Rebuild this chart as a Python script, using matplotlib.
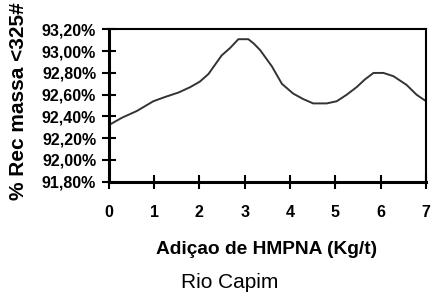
import matplotlib
matplotlib.use("Agg")
import matplotlib.pyplot as plt

x_vals = [0.0, 0.3, 0.62, 0.985, 1.25, 1.54, 1.8, 2.01, 2.2, 2.49, 2.68, 2.86, 3.08, 3.2, 3.34, 3.6, 3.82,
          4.07, 4.29, 4.51, 4.81, 5.03, 5.25, 5.47, 5.65, 5.84, 6.06, 6.28, 6.57, 6.79, 7.0]
y_vals = [92.32, 92.39, 92.45, 92.54, 92.58, 92.62, 92.67, 92.72, 92.79, 92.96, 93.03, 93.11, 93.11, 93.07, 93.01, 92.86, 92.70,
          92.61, 92.56, 92.52, 92.52, 92.54, 92.60, 92.67, 92.74, 92.80, 92.80, 92.77, 92.69, 92.60, 92.54]
x_ticks = [0, 1, 2, 3, 4, 5, 6, 7]
y_ticks = [91.8, 92.0, 92.2, 92.4, 92.6, 92.8, 93.0, 93.2]
y_tick_labels = ["91,80%", "92,00%", "92,20%", "92,40%", "92,60%", "92,80%", "93,00%", "93,20%"]
x_label = "Adiçao de HMPNA (Kg/t)"
y_label = "% Rec massa <325#"
subtitle = "Rio Capim"

plt.rcParams['font.family'] = ['Liberation Sans', 'DejaVu Sans']

fig = plt.figure(figsize=(4.33, 2.97), dpi=100)
ax = fig.add_axes([0.251, 0.388, 0.733, 0.513])
ax.plot(x_vals, y_vals, color="#333333", linewidth=1.4)
ax.set_xlim(0, 7)
ax.set_ylim(91.8, 93.2)
ax.set_xticks(x_ticks)
ax.set_xticklabels([str(t) for t in x_ticks], fontsize=11.5, fontweight='bold')
ax.set_yticks(y_ticks)
ax.set_yticklabels(y_tick_labels, fontsize=11.5, fontweight='bold')
ax.tick_params(axis='x', direction='inout', length=10, width=1.5, pad=12)
ax.tick_params(axis='y', direction='inout', length=10, width=1.5, pad=4)
for s in ax.spines.values():
    s.set_linewidth(1.5)
ax.spines['left'].set_linewidth(2.2)
ax.spines['bottom'].set_linewidth(2.2)

fig.text(19/433, 1 - 200/297, y_label, rotation=90, ha='center', va='bottom',
         fontsize=15, fontweight='bold')
fig.text(267/433, 1 - 249/297, x_label, ha='center', va='center',
         fontsize=13.8, fontweight='bold')
fig.text(230/433, 1 - 282/297, subtitle, ha='center', va='center', fontsize=15)

fig.savefig("out.png", dpi=100)
